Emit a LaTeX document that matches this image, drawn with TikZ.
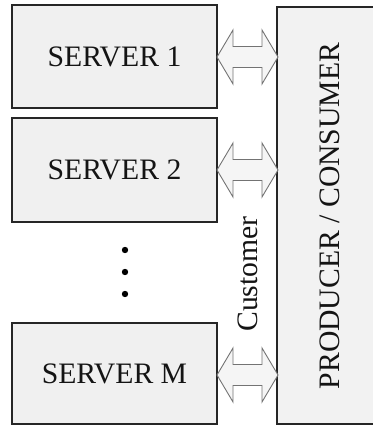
\documentclass[tikz,border=0pt]{standalone}
\usepackage{fontspec}
\setmainfont{Liberation Serif}
\begin{document}
\begin{tikzpicture}[x=1pt,y=-1pt,
  srvbox/.style={draw=black!85,line width=2.4pt,fill=black!6},
  prodbox/.style={draw=black!85,line width=1.8pt,fill=black!5},
  lbl/.style={font=\fontsize{29.7}{31}\selectfont,text=black!92,inner sep=0pt},
  dblarrow/.style={draw=black!55,line width=0.9pt,fill=black!4,line join=miter}
]
\useasboundingbox (0,0) rectangle (372,425);
% boxes
\draw[srvbox] (12,5) rectangle (217,108);
\draw[srvbox] (12,118) rectangle (217,222);
\draw[srvbox] (12,323) rectangle (217,424);
\draw[prodbox] (277,7) rectangle (384,424);
\node[lbl] (s1) at (114.5,57) {SERVER 1};
\node[lbl] (s2) at (114.5,170) {SERVER 2};
\node[lbl] (sm) at (114.5,374) {SERVER M};
\node[lbl,rotate=90] (pc) at (330,216) {PRODUCER / CONSUMER};
\node[lbl,rotate=90] (cu) at (248,274) {Customer};
% dots
\foreach \yy in {250,272,294}
  \fill (125,\yy) circle (3.2);
% double arrows
\foreach \cy in {57,170,375}{
  \draw[dblarrow] (217,\cy) -- (233,\cy-27) -- (233,\cy-10.5) -- (262,\cy-10.5)
    -- (262,\cy-27) -- (278,\cy) -- (262,\cy+27) -- (262,\cy+10.5)
    -- (233,\cy+10.5) -- (233,\cy+27) -- cycle;
}
\end{tikzpicture}
\end{document}
